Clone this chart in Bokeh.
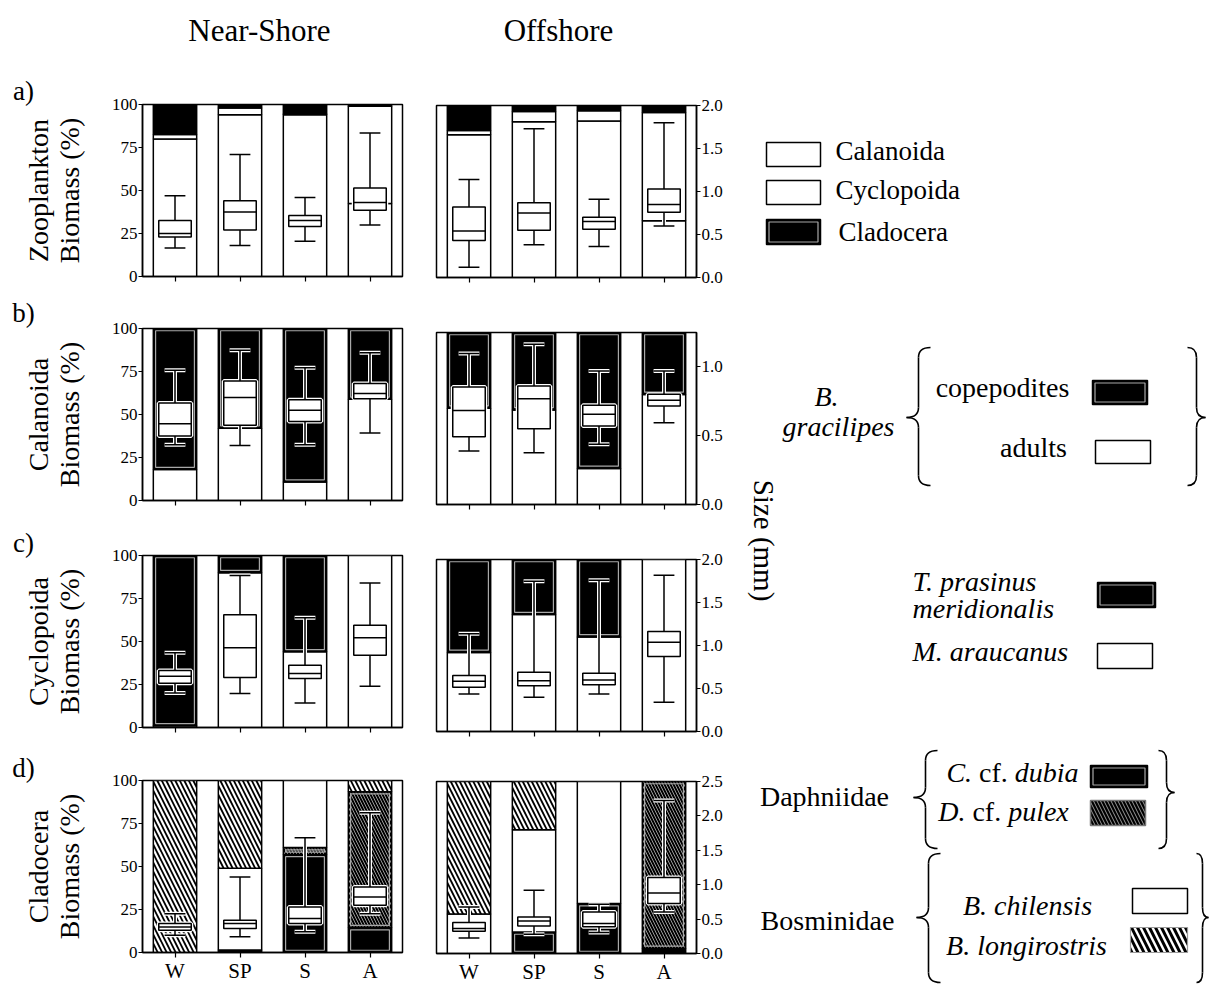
import math
from bokeh.plotting import figure
from bokeh.models import Range1d, LinearAxis, FixedTicker, NumeralTickFormatter, CustomJSTickFormatter
from bokeh.layouts import row, column
from bokeh.embed import file_html
from bokeh.resources import INLINE
from bokeh.core.properties import value

FONT = "Liberation Serif"

seasons = ["W", "SP", "S", "A"]

# ---------------- a) Zooplankton biomass (%) , bottom -> top ----------------
a_ns_calanoida = [80.0, 94.0, 94.0, 42.5]
a_ns_cyclopoida = [2.5, 4.0, 0.5, 56.5]
a_ns_cladocera = [17.5, 2.0, 5.5, 1.0]
a_os_calanoida = [83.0, 90.5, 91.0, 33.0]
a_os_cyclopoida = [2.5, 6.0, 6.0, 63.0]
a_os_cladocera = [14.5, 3.5, 3.0, 4.0]
# size box plots (mm): whisker low, Q1, median, Q3, whisker high
a_ns_size = [[0.33, 0.46, 0.50, 0.65, 0.94], [0.36, 0.54, 0.75, 0.88, 1.42],
             [0.41, 0.58, 0.65, 0.71, 0.92], [0.60, 0.77, 0.86, 1.03, 1.67]]
a_os_size = [[0.12, 0.43, 0.54, 0.82, 1.14], [0.38, 0.55, 0.75, 0.87, 1.73],
             [0.36, 0.56, 0.65, 0.70, 0.91], [0.60, 0.76, 0.85, 1.03, 1.80]]

# ---------------- b) Calanoida (B. gracilipes) ----------------
b_ns_adults = [18.0, 42.0, 10.7, 58.8]
b_ns_copepodites = [82.0, 58.0, 89.3, 41.2]
b_os_adults = [56.0, 55.0, 21.0, 64.0]
b_os_copepodites = [44.0, 45.0, 79.0, 36.0]
b_ns_size = [[0.405, 0.469, 0.558, 0.709, 0.946], [0.40, 0.546, 0.748, 0.869, 1.092],
             [0.405, 0.575, 0.655, 0.733, 0.964], [0.49, 0.74, 0.777, 0.85, 1.073]]
b_os_size = [[0.388, 0.493, 0.684, 0.854, 1.097], [0.376, 0.551, 0.769, 0.862, 1.165],
             [0.437, 0.57, 0.655, 0.721, 0.971], [0.595, 0.716, 0.757, 0.801, 0.971]]

# ---------------- c) Cyclopoida ----------------
c_ns_araucanus = [1.0, 90.0, 44.0, 100.0]
c_ns_prasinus = [99.0, 10.0, 56.0, 0.0]
c_os_araucanus = [46.0, 68.0, 55.0, 100.0]
c_os_prasinus = [54.0, 32.0, 45.0, 0.0]
c_ns_size = [[0.402, 0.514, 0.596, 0.662, 0.87], [0.395, 0.58, 0.928, 1.311, 1.768],
             [0.286, 0.569, 0.627, 0.723, 1.276], [0.48, 0.84, 1.044, 1.188, 1.679]]
c_os_size = [[0.436, 0.514, 0.584, 0.65, 1.136], [0.397, 0.533, 0.591, 0.689, 1.747],
             [0.436, 0.545, 0.599, 0.677, 1.759], [0.339, 0.872, 1.039, 1.163, 1.817]]

# ---------------- d) Cladocera ----------------
d_ns_dubia = [0.0, 1.5, 57.0, 14.5]
d_ns_pulex = [0.0, 0.0, 4.0, 79.0]
d_ns_chilensis = [0.0, 47.5, 39.0, 0.0]
d_ns_longirostris = [100.0, 51.0, 0.0, 6.5]
d_os_dubia = [0.0, 12.5, 29.0, 3.0]
d_os_pulex = [0.0, 0.0, 0.0, 97.0]
d_os_chilensis = [23.0, 59.5, 71.0, 0.0]
d_os_longirostris = [77.0, 28.0, 0.0, 0.0]
d_ns_size = [[0.25, 0.325, 0.37, 0.42, 0.565], [0.228, 0.348, 0.42, 0.47, 1.098],
             [0.30, 0.42, 0.493, 0.663, 1.668], [0.565, 0.687, 0.808, 0.953, 2.03]]
d_os_size = [[0.227, 0.324, 0.363, 0.45, 0.677], [0.28, 0.401, 0.474, 0.532, 0.919],
             [0.305, 0.387, 0.435, 0.604, 0.716], [0.604, 0.725, 0.88, 1.103, 2.224]]

pct_ticks = [0, 25, 50, 75, 100]
size_max = {"a": 2.0, "b": 1.25, "c": 2.0, "d": 2.5}
size_ticks = {"a": [0, 0.5, 1.0, 1.5, 2.0], "b": [0, 0.5, 1.0],
              "c": [0, 0.5, 1.0, 1.5, 2.0], "d": [0, 0.5, 1.0, 1.5, 2.0, 2.5]}
ylabels = {"a": "Zooplankton", "b": "Calanoida", "c": "Cyclopoida", "d": "Cladocera"}

# ---------------- styles ----------------
WHITE = dict(fill_color="white")
BLACK = dict(fill_color="black", inner=True)
BLACK_PLAIN = dict(fill_color="black")
LONGI = dict(fill_color="white", hatch_pattern="left_diagonal_line", hatch_color="black",
             hatch_weight=1.8, hatch_scale=9)
PULEX = dict(fill_color="black", hatch_pattern="left_diagonal_line", hatch_color="#9a9a9a",
             hatch_weight=1.0, hatch_scale=6, inner=True)

XS = [i + 0.5 for i in range(len(seasons))]
BAR_W = 0.667
FRAME_H = 172


def draw_stack(p, layers):
    bottoms = [0.0] * len(seasons)
    for vals, style in layers:
        st = dict(style)
        inner = st.pop("inner", False)
        xs, bs, ts = [], [], []
        for x, b, v in zip(XS, bottoms, vals):
            if v > 0:
                xs.append(x); bs.append(b); ts.append(b + v)
        if xs:
            p.vbar(x=xs, bottom=bs, top=ts, width=BAR_W, line_color="black", line_width=1.5, **st)
            if inner:
                ii = [k for k in range(len(xs)) if ts[k] - bs[k] > 3]
                if ii:
                    p.vbar(x=[xs[k] for k in ii], bottom=[bs[k] + 1.3 for k in ii],
                           top=[ts[k] - 1.3 for k in ii], width=BAR_W - 0.07,
                           fill_color=None, line_color="#a8a8a8", line_width=1.2)
        bottoms = [b + v for b, v in zip(bottoms, vals)]


def draw_boxes(p, stats):
    lo = [s[0] for s in stats]
    q1 = [s[1] for s in stats]
    md = [s[2] for s in stats]
    q3 = [s[3] for s in stats]
    hi = [s[4] for s in stats]
    cap, half = 0.16, 0.25
    for col, lw in (("white", 4.0), ("black", 1.5)):
        kw = dict(y_range_name="size", line_color=col, line_width=lw)
        p.segment(x0=XS, y0=q3, x1=XS, y1=hi, **kw)
        p.segment(x0=XS, y0=lo, x1=XS, y1=q1, **kw)
        p.segment(x0=[x - cap for x in XS], y0=hi, x1=[x + cap for x in XS], y1=hi, **kw)
        p.segment(x0=[x - cap for x in XS], y0=lo, x1=[x + cap for x in XS], y1=lo, **kw)
        p.quad(left=[x - half for x in XS], right=[x + half for x in XS], bottom=q1, top=q3,
               fill_color=("white" if col == "black" else None), **kw)
    p.segment(x0=[x - half for x in XS], y0=md, x1=[x + half for x in XS], y1=md,
              y_range_name="size", line_color="black", line_width=1.5)


def make_panel(key, side, layers, stats, bt, bb):
    if side == "ns":
        w, bl, br = 312, 42, 10
    else:
        w, bl, br = 324, 24, 40
    p = figure(width=w, height=bt + FRAME_H + bb, x_range=Range1d(0, 4), y_range=Range1d(0, 100),
               output_backend="svg", toolbar_location=None,
               min_border_left=bl, min_border_right=br, min_border_top=bt, min_border_bottom=bb,
               y_axis_location=("left" if side == "ns" else None))
    p.extra_y_ranges = {"size": Range1d(0, size_max[key])}
    p.grid.visible = False
    p.outline_line_color = "black"
    p.outline_line_width = 1.5
    p.outline_line_alpha = 1.0
    p.background_fill_color = "white"
    p.border_fill_color = "white"

    show = key == "d"
    xa = p.xaxis[0]
    xa.ticker = FixedTicker(ticks=XS)
    xa.formatter = CustomJSTickFormatter(args=dict(labels=seasons, show=show),
                                         code="return show ? labels[Math.floor(tick)] : '';")
    xa.major_tick_out = 5
    xa.major_tick_in = 0
    xa.minor_tick_out = 0
    xa.minor_tick_in = 0
    xa.axis_line_width = 1.5
    xa.major_tick_line_width = 1.2
    xa.major_label_text_font = FONT
    xa.major_label_text_font_size = "21px" if show else "2px"
    xa.major_label_text_color = "black"
    xa.major_label_standoff = 1

    if side == "ns":
        ya = p.yaxis[0]
        ya.ticker = FixedTicker(ticks=pct_ticks)
    else:
        ya = LinearAxis(y_range_name="size", ticker=FixedTicker(ticks=size_ticks[key]),
                        formatter=NumeralTickFormatter(format="0.0"))
        p.add_layout(ya, "right")
    ya.major_tick_out = 4
    ya.major_tick_in = 0
    ya.minor_tick_out = 0
    ya.minor_tick_in = 0
    ya.axis_line_width = 1.5
    ya.major_tick_line_width = 1.2
    ya.major_label_text_font = FONT
    ya.major_label_text_font_size = "17px"
    ya.major_label_text_color = "black"
    ya.major_label_standoff = 1

    draw_stack(p, layers)
    draw_boxes(p, stats)
    return p


def canvas(x0, x1, y0, y1):
    f = figure(width=x1 - x0, height=y1 - y0, x_range=Range1d(x0, x1), y_range=Range1d(y1, y0),
               output_backend="svg", toolbar_location=None, min_border=0,
               x_axis_location=None, y_axis_location=None)
    f.outline_line_color = None
    f.grid.visible = False
    f.background_fill_color = "white"
    f.border_fill_color = "white"
    return f


def txt(f, x, y, s, size=28, style="normal", align="center", angle=0.0, font=FONT):
    f.text(x=[x], y=[y], text=[s], text_font=value(font), text_font_size=f"{size}px",
           text_font_style=style, text_align=align, text_baseline="middle", angle=angle,
           text_color="black")


# ---------------- panels (page pixel layout) ----------------
ns_a = make_panel("a", "ns", [(a_ns_calanoida, WHITE), (a_ns_cyclopoida, WHITE), (a_ns_cladocera, BLACK_PLAIN)], a_ns_size, 44, 24)
ns_b = make_panel("b", "ns", [(b_ns_adults, WHITE), (b_ns_copepodites, BLACK)], b_ns_size, 28, 27)
ns_c = make_panel("c", "ns", [(c_ns_araucanus, WHITE), (c_ns_prasinus, BLACK)], c_ns_size, 28, 26)
ns_d = make_panel("d", "ns", [(d_ns_dubia, BLACK), (d_ns_pulex, PULEX), (d_ns_chilensis, WHITE), (d_ns_longirostris, LONGI)], d_ns_size, 27, 36)

os_a = make_panel("a", "os", [(a_os_calanoida, WHITE), (a_os_cyclopoida, WHITE), (a_os_cladocera, BLACK_PLAIN)], a_os_size, 45, 27)
os_b = make_panel("b", "os", [(b_os_adults, WHITE), (b_os_copepodites, BLACK)], b_os_size, 28, 27)
os_c = make_panel("c", "os", [(c_os_araucanus, WHITE), (c_os_prasinus, BLACK)], c_os_size, 28, 24)
os_d = make_panel("d", "os", [(d_os_dubia, BLACK), (d_os_pulex, PULEX), (d_os_chilensis, WHITE), (d_os_longirostris, LONGI)], d_os_size, 26, 35)

# header with column titles
hdr = canvas(100, 736, 0, 60)
txt(hdr, 259, 30, "Near-Shore", size=31)
txt(hdr, 558, 30, "Offshore", size=31)

# left labels: panel letters and y axis titles
lab = canvas(0, 100, 0, 988)
frame_mid = {"a": 190, "b": 414, "c": 641, "d": 866}
panel_lab_y = {"a": 90, "b": 312, "c": 542, "d": 767}
for k in ["a", "b", "c", "d"]:
    txt(lab, 23, panel_lab_y[k], k + ")", size=27)
    txt(lab, 38, frame_mid[k], ylabels[k], size=28, angle=math.pi / 2)
    txt(lab, 69, frame_mid[k], "Biomass (%)", size=28, angle=math.pi / 2)

# ---------------- legend / annotation panel (page coordinates) ----------------
lg = canvas(736, 1210, 0, 988)


def swatch(x0, x1, y0, y1, kind):
    if kind == "white":
        lg.quad(left=[x0], right=[x1], top=[y0], bottom=[y1], fill_color="white",
                line_color="black", line_width=1.5)
    elif kind == "black":
        lg.quad(left=[x0], right=[x1], top=[y0], bottom=[y1], fill_color="black",
                line_color="black", line_width=1.5)
        lg.quad(left=[x0 + 2.5], right=[x1 - 2.5], top=[y0 + 2.5], bottom=[y1 - 2.5],
                fill_color=None, line_color="#a8a8a8", line_width=1.2)
    elif kind == "pulex":
        lg.quad(left=[x0], right=[x1], top=[y0], bottom=[y1], fill_color="black",
                hatch_pattern="left_diagonal_line", hatch_color="#9a9a9a", hatch_weight=1.0,
                hatch_scale=7, line_color="#777777", line_width=1.5)
    elif kind == "longi":
        lg.quad(left=[x0], right=[x1], top=[y0], bottom=[y1], fill_color="white",
                hatch_pattern="left_diagonal_line", hatch_color="black", hatch_weight=3.0,
                hatch_scale=12, line_color="#999999", line_width=1.2)


def brace(xs, yt, yb, ym, d, left=True, r=10):
    s = -1 if left else 1
    tip, hook = xs + s * d, xs - s * d
    lg.quadratic(x0=[hook, xs, tip, xs], y0=[yt, ym - r, ym, yb - r],
                 x1=[xs, tip, xs, hook], y1=[yt + r, ym, ym + r, yb],
                 cx=[xs, xs, xs, xs], cy=[yt, ym, ym, yb], line_color="black", line_width=1.6)
    lg.segment(x0=[xs, xs], y0=[yt + r, ym + r], x1=[xs, xs], y1=[ym - r, yb - r],
               line_color="black", line_width=1.6)


def mixed(xc, y, pieces, size=28):
    total = sum(w + g for _, _, w, g in pieces)
    x = xc - total * size / 2
    for t, st, w, g in pieces:
        txt(lg, x, y, t, size=size, style=st, align="left")
        x += (w + g) * size


# a) legend
swatch(766, 820, 142, 166, "white")
txt(lg, 835, 150, "Calanoida", size=27, align="left")
swatch(766, 820, 180, 204, "white")
txt(lg, 835, 189, "Cyclopoida", size=27, align="left")
swatch(766, 820, 219, 244, "black")
txt(lg, 838, 231, "Cladocera", size=27, align="left")

# b) legend
txt(lg, 826, 396, "B.", style="italic")
txt(lg, 838, 426, "gracilipes", style="italic")
brace(918, 347, 485, 417, 12, left=True)
txt(lg, 1002, 387, "copepodites")
swatch(1092, 1147, 380, 404, "black")
txt(lg, 1033, 447, "adults")
swatch(1095, 1150, 440, 463, "white")
brace(1196, 347, 485, 417, 9, left=False)

# size axis title shared by the offshore panels
txt(lg, 763, 540, "Size (mm)", size=29, angle=-math.pi / 2)

# c) legend
txt(lg, 912, 581, "T. prasinus", style="italic", align="left")
txt(lg, 912, 608, "meridionalis", style="italic", align="left")
swatch(1097, 1155, 582, 607, "black")
txt(lg, 912, 651, "M. araucanus", style="italic", align="left")
swatch(1097, 1152, 643, 668, "white")

# d) legend
txt(lg, 824, 796, "Daphniidae")
brace(925, 750, 848, 797, 12, left=True)
mixed(1012, 772, [("C.", "italic", 0.917, 0.25), ("cf.", "normal", 1.027, 0.25), ("dubia", "italic", 2.278, 0.0)])
swatch(1090, 1147, 765, 787, "black")
mixed(1003, 811, [("D.", "italic", 0.972, 0.25), ("cf.", "normal", 1.027, 0.25), ("pulex", "italic", 2.166, 0.0)])
swatch(1090, 1145, 800, 825, "pulex")
brace(1166, 750, 848, 792, 8, left=False)

txt(lg, 827, 920, "Bosminidae")
brace(928, 853, 982, 917, 12, left=True)
txt(lg, 1027, 905, "B. chilensis", style="italic")
swatch(1132, 1187, 888, 913, "white")
txt(lg, 1026, 945, "B. longirostris", style="italic")
swatch(1130, 1187, 927, 952, "longi")
brace(1202, 853, 982, 917, 6, left=False)

layout = row(lab,
             column(hdr, row(column(ns_a, ns_b, ns_c, ns_d), column(os_a, os_b, os_c, os_d))),
             lg)

open("out.html", "w").write(file_html(layout, INLINE))
